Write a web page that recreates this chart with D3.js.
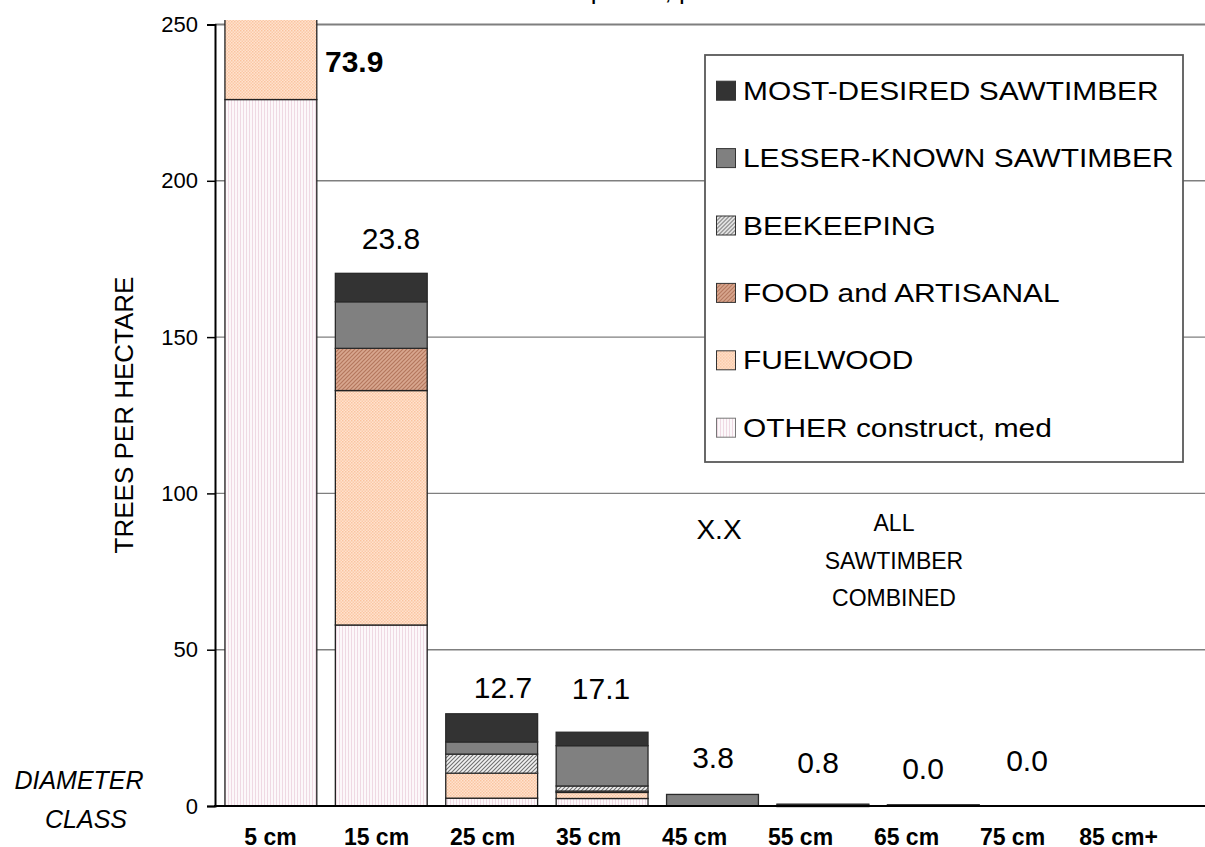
<!DOCTYPE html>
<html>
<head>
<meta charset="utf-8">
<script src="https://cdn.jsdelivr.net/npm/d3@7"></script>
<style>
  html, body { margin: 0; padding: 0; background: #fff; }
  svg { display: block; font-family: "Liberation Sans", Arial, sans-serif; }
</style>
</head>
<body>
<svg id="chart" width="1205" height="847"></svg>
<script>
// ---------------- DATA ----------------
const categories = ["5 cm", "15 cm", "25 cm", "35 cm", "45 cm", "55 cm", "65 cm", "75 cm", "85 cm+"];
const seriesNames = ["OTHER construct, med", "FUELWOOD", "FOOD and ARTISANAL", "BEEKEEPING", "LESSER-KNOWN SAWTIMBER", "MOST-DESIRED SAWTIMBER"];
const otherVals     = [226, 57.9, 2.5, 2.4, 0,   0,   0,   0, 0];
const fuelwoodVals  = [45,  75.0, 8.0, 2.1, 0,   0,   0,   0, 0];
const foodVals      = [0,   13.5, 0,   0.3, 0,   0,   0,   0, 0];
const beekeepVals   = [0,   0,    6.1, 1.6, 0,   0,   0,   0, 0];
const lesserVals    = [0,   14.9, 3.9, 12.9, 3.7, 0.3, 0.4, 0, 0];
const mostVals      = [0,   9.1,  9.0, 4.3, 0,   0.3, 0,   0, 0];
const yTicks = [0, 50, 100, 150, 200, 250];
const annotationTexts = ["73.9", "23.8", "12.7", "17.1", "3.8", "0.8", "0.0", "0.0", "X.X"];
const noteLines = ["ALL", "SAWTIMBER", "COMBINED"];
const titleText = "Trees per ha, per use class";
const yTitle = "TREES PER HECTARE";
const xTitleLines = ["DIAMETER", "CLASS"];

// ---------------- LAYOUT ----------------
const svg = d3.select("#chart");
svg.append("rect").attr("width", 1205).attr("height", 847).attr("fill", "#fff");

const plot = { left: 215, right: 1210, top: 24.5, bottom: 806 };
const x = d3.scaleBand().domain(categories).range([plot.left, plot.right]).paddingInner(0.168).paddingOuter(0.09);
const y = d3.scaleLinear().domain([0, 250]).range([plot.bottom, plot.top]);
const labelX = d3.scalePoint().domain(categories).range([270, 1118]);

// patterns
const defs = svg.append("defs");
function pat(id, w, h, bg, draw) {
  const p = defs.append("pattern").attr("id", id).attr("patternUnits", "userSpaceOnUse").attr("width", w).attr("height", h);
  p.append("rect").attr("width", w).attr("height", h).attr("fill", bg);
  draw(p);
}
pat("pOther", 3, 3, "#fcf8fa", p => p.append("rect").attr("x", 0).attr("y", 0).attr("width", 1).attr("height", 3).attr("fill", "#efd9e3"));
pat("pFuel", 3, 3, "#ffe2cf", p => {
  p.append("rect").attr("x", 0).attr("y", 0).attr("width", 1.5).attr("height", 1.5).attr("fill", "#f9c4a0");
  p.append("rect").attr("x", 1.5).attr("y", 1.5).attr("width", 1.5).attr("height", 1.5).attr("fill", "#fbcaa8");
});
pat("pFood", 4, 4, "#d8a78f", p => p.append("path").attr("d", "M0,4 L4,0 M-1,1 L1,-1 M3,5 L5,3").attr("stroke", "#b4775d").attr("stroke-width", 1.2));
pat("pBee", 4, 4, "#f2f2f2", p => p.append("path").attr("d", "M0,4 L4,0 M-1,1 L1,-1 M3,5 L5,3").attr("stroke", "#707070").attr("stroke-width", 1.1));

const fills = ["url(#pOther)", "url(#pFuel)", "url(#pFood)", "url(#pBee)", "#808080", "#333333"];
const strokes = ["#222", "#222", "#222", "#333", "#2a2a2a", "#2a2a2a"];

// title (mostly cut off at the top, only descenders visible)
svg.append("text").attr("x", 518).attr("y", -1).attr("font-size", 26).attr("fill", "#000").text(titleText);

// gridlines
svg.append("g").selectAll("line").data(yTicks.filter(d => d > 0)).join("line")
  .attr("x1", plot.left).attr("x2", plot.right)
  .attr("y1", d => y(d)).attr("y2", d => y(d))
  .attr("stroke", "#7f7f7f").attr("stroke-width", d => d === 250 ? 2 : 1.4);

// stacked bars
const table = categories.map((c, i) => ({
  cat: c,
  s0: otherVals[i], s1: fuelwoodVals[i], s2: foodVals[i], s3: beekeepVals[i], s4: lesserVals[i], s5: mostVals[i]
}));
const stack = d3.stack().keys(["s0", "s1", "s2", "s3", "s4", "s5"]);
const layers = stack(table);

defs.append("clipPath").attr("id", "plotClip").append("rect")
  .attr("x", plot.left).attr("y", 20).attr("width", plot.right - plot.left).attr("height", plot.bottom - 20 + 2);

const barG = svg.append("g").attr("clip-path", "url(#plotClip)");
layers.forEach((layer, li) => {
  barG.append("g").selectAll("rect").data(layer.filter(d => d[1] - d[0] > 0)).join("rect")
    .attr("x", d => x(d.data.cat))
    .attr("width", x.bandwidth())
    .attr("y", d => y(d[1]))
    .attr("height", d => Math.max(1.5, y(d[0]) - y(d[1])))
    .attr("fill", fills[li])
    .attr("stroke", strokes[li])
    .attr("stroke-width", 1.3);
});

// axes
const yAxis = d3.axisLeft(y).tickValues(yTicks).tickSize(8).tickPadding(9).tickFormat(d3.format("d"));
const yg = svg.append("g").attr("transform", `translate(${plot.left},0)`).call(yAxis);
yg.select(".domain").attr("stroke", "#000").attr("stroke-width", 2);
yg.selectAll(".tick line").attr("stroke", "#000").attr("stroke-width", 1.5);
yg.selectAll(".tick text").attr("font-size", 22).attr("fill", "#000").attr("font-family", "Liberation Sans, Arial, sans-serif");

svg.append("line").attr("x1", plot.left - 1).attr("x2", plot.right).attr("y1", plot.bottom).attr("y2", plot.bottom)
  .attr("stroke", "#000").attr("stroke-width", 2);

// category labels (typed text boxes in the original, evenly spaced)
const xAxis = d3.axisBottom(labelX).tickSize(0).tickPadding(0);
const xg = svg.append("g").attr("transform", `translate(0,${plot.bottom})`).call(xAxis);
xg.select(".domain").remove();
xg.selectAll(".tick text").attr("font-size", 23).attr("font-weight", "bold").attr("fill", "#000")
  .attr("font-family", "Liberation Sans, Arial, sans-serif").attr("dy", null).attr("y", 39);

// axis titles
svg.append("text").attr("transform", "translate(133,415) rotate(-90)").attr("text-anchor", "middle")
  .attr("font-size", 26).attr("fill", "#000").text(yTitle);
const xtPos = [{ x: 79, y: 789 }, { x: 86, y: 828 }];
svg.selectAll(".xt").data(xTitleLines).join("text").attr("class", "xt")
  .attr("x", (d, i) => xtPos[i].x).attr("y", (d, i) => xtPos[i].y).attr("text-anchor", "middle")
  .attr("font-size", 25).attr("font-style", "italic").attr("fill", "#000").text(d => d);

// annotations
const annPos = [
  { x: 325, y: 72, anchor: "start", bold: true },
  { x: 391, y: 249, anchor: "middle" },
  { x: 503, y: 698, anchor: "middle" },
  { x: 601, y: 699, anchor: "middle" },
  { x: 713, y: 768, anchor: "middle" },
  { x: 818, y: 773, anchor: "middle" },
  { x: 923, y: 779, anchor: "middle" },
  { x: 1027, y: 771, anchor: "middle" },
  { x: 719, y: 539, anchor: "middle" }
];
svg.append("g").selectAll("text").data(annotationTexts).join("text")
  .attr("x", (d, i) => annPos[i].x).attr("y", (d, i) => annPos[i].y)
  .attr("text-anchor", (d, i) => annPos[i].anchor)
  .attr("font-weight", (d, i) => annPos[i].bold ? "bold" : "normal")
  .attr("font-size", (d, i) => i === 8 ? 28 : 30)
  .attr("fill", "#000").text(d => d);

svg.append("g").selectAll("text").data(noteLines).join("text")
  .attr("x", 894).attr("y", (d, i) => 531 + i * 37.5).attr("text-anchor", "middle")
  .attr("font-size", 23).attr("fill", "#000").text(d => d);

// legend
const lg = svg.append("g");
lg.append("rect").attr("x", 705).attr("y", 55).attr("width", 478).attr("height", 407)
  .attr("fill", "#fff").attr("stroke", "#595959").attr("stroke-width", 1.8);
const legendOrder = [5, 4, 3, 2, 1, 0];
const items = lg.selectAll("g.item").data(legendOrder).join("g").attr("class", "item")
  .attr("transform", (d, i) => `translate(0,${90.7 + i * 67.4})`);
items.append("rect").attr("x", 716.5).attr("y", -9.5).attr("width", 19).attr("height", 19)
  .attr("fill", d => fills[d]).attr("stroke", d => d === 0 ? "#777" : "#333").attr("stroke-width", 1);
items.append("text").attr("transform", "translate(743,9) scale(1.15,1)")
  .attr("font-size", 26).attr("fill", "#000").text(d => seriesNames[d]);
</script>
</body>
</html>
